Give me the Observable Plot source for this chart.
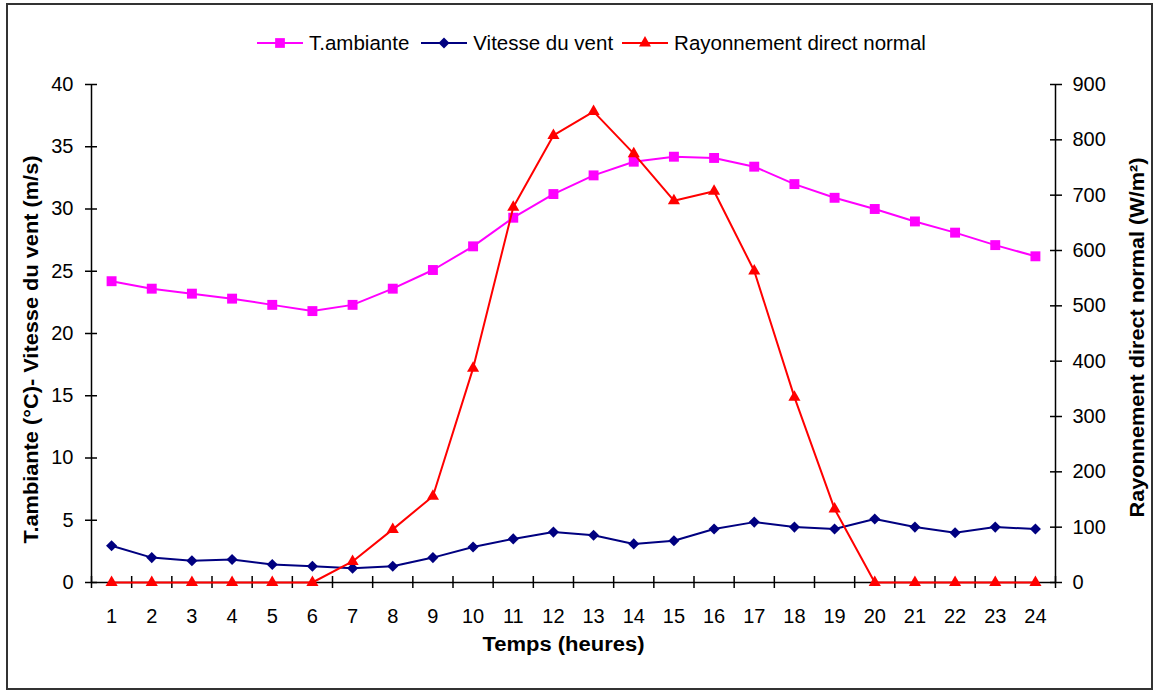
<!DOCTYPE html>
<html><head><meta charset="utf-8">
<script src="https://cdn.jsdelivr.net/npm/d3@7"></script>
<script src="https://cdn.jsdelivr.net/npm/@observablehq/plot@0.6"></script>
<style>
body{margin:0;background:#fff;}
#wrap{position:relative;width:1160px;height:691px;overflow:hidden;font-family:"Liberation Sans",Arial,sans-serif;color:#000;}
#chart{position:absolute;left:0;top:0;}
#border{position:absolute;left:6px;top:3px;width:1147px;height:687px;border:2px solid #333;box-sizing:border-box;pointer-events:none;}
#legend{position:absolute;top:30px;left:257px;height:26px;display:flex;align-items:center;font-size:20.5px;white-space:nowrap;}
.item{display:flex;align-items:center;}
.item svg{margin-right:6px;display:block;}
</style></head>
<body><div id="wrap"><div id="chart"></div><div id="legend"></div><div id="border"></div></div>
<script>
// ---- data ----
const hours = [1,2,3,4,5,6,7,8,9,10,11,12,13,14,15,16,17,18,19,20,21,22,23,24];
const temperature = [24.2,23.6,23.2,22.8,22.3,21.8,22.3,23.6,25.1,27.0,29.3,31.2,32.7,33.8,34.2,34.1,33.4,32.0,30.9,30.0,29.0,28.1,27.1,26.2];
const windSpeed = [2.95,2.0,1.75,1.85,1.45,1.3,1.15,1.3,2.0,2.85,3.5,4.05,3.8,3.1,3.35,4.3,4.85,4.45,4.3,5.1,4.45,4.0,4.45,4.3];
const radiation = [0,0,0,0,0,0,38,96,156,387,678,808,851,775,690,707,563,335,133,0,0,0,0,0];
const leftTicks = [0,5,10,15,20,25,30,35,40];
const rightTicks = [0,100,200,300,400,500,600,700,800,900];
const seriesNames = ["T.ambiante","Vitesse du vent","Rayonnement direct normal"];
const seriesColors = ["#FF00FF","#000080","#FF0000"];
const seriesSymbols = ["square","diamond2","triangle"];
const xTitle = "Temps (heures)";
const yLeftTitle = "T.ambiante (°C)- Vitesse du vent (m/s)";
const yRightTitle = "Rayonnement direct normal (W/m²)";

// ---- derived ----
const k = d3.max(leftTicks) / d3.max(rightTicks);
const rows = hours.map((h, i) => ({hour: h, temp: temperature[i], wind: windSpeed[i], rad: radiation[i], radScaled: radiation[i] * k}));
const x0 = d3.min(hours) - 0.5, x1 = d3.max(hours) + 0.5;
const boundaries = hours.map(h => h - 0.5).concat([x1]);

const font = '"Liberation Sans", Arial, sans-serif';
const chart = Plot.plot({
  width: 1160, height: 691,
  marginTop: 84, marginBottom: 109, marginLeft: 91, marginRight: 105,
  x: {type: "linear", domain: [x0, x1]},
  y: {domain: d3.extent(leftTicks)},
  style: {fontFamily: font, fontSize: "20px", color: "#000", background: "transparent", overflow: "visible"},
  marks: [
    Plot.ruleY([0], {stroke: "#000", strokeWidth: 1.5}),
    Plot.ruleX([x0, x1], {stroke: "#000", strokeWidth: 1.5}),
    Plot.axisX(boundaries, {anchor: "bottom", tickSize: 12, dy: -6, tickFormat: () => "", label: null, strokeWidth: 1.5}),
    Plot.axisX(hours, {anchor: "bottom", tickSize: 0, tickPadding: 26, label: null, tickFormat: d => String(d), fontSize: 20}),
    Plot.axisY(leftTicks, {anchor: "left", tickSize: 12, dx: 6, tickPadding: 12, label: null, strokeWidth: 1.5, fontSize: 20}),
    Plot.axisY(rightTicks.map(v => v * k), {anchor: "right", tickSize: 12, dx: -6, tickPadding: 11, label: null, strokeWidth: 1.5, fontSize: 20, tickFormat: v => String(Math.round(v / k))}),
    Plot.line(rows, {x: "hour", y: "temp", stroke: seriesColors[0], strokeWidth: 2}),
    Plot.dot(rows, {x: "hour", y: "temp", symbol: seriesSymbols[0], r: 5.6, fill: seriesColors[0]}),
    Plot.line(rows, {x: "hour", y: "wind", stroke: seriesColors[1], strokeWidth: 2}),
    Plot.dot(rows, {x: "hour", y: "wind", symbol: seriesSymbols[1], r: 5.0, fill: seriesColors[1]}),
    Plot.line(rows, {x: "hour", y: "radScaled", stroke: seriesColors[2], strokeWidth: 2}),
    Plot.dot(rows, {x: "hour", y: "radScaled", symbol: seriesSymbols[2], r: 4.5, fill: seriesColors[2]}),
    Plot.text([xTitle], {text: d => d, frameAnchor: "bottom", textAnchor: "middle", dx: -10, dy: 68, fontWeight: "bold", fontSize: 20}),
    Plot.text([yLeftTitle], {text: d => d, frameAnchor: "left", textAnchor: "middle", rotate: -90, dx: -60, dy: 16, fontWeight: "bold", fontSize: 20}),
    Plot.text([yRightTitle], {text: d => d, frameAnchor: "right", textAnchor: "middle", rotate: -90, dx: 82, dy: 4, fontWeight: "bold", fontSize: 20})
  ]
});
document.getElementById("chart").appendChild(chart);

// stretch titles to the reference lengths
const lengths = {[xTitle]: 162, [yLeftTitle]: 388, [yRightTitle]: 360};
d3.select(chart).selectAll("text").each(function() {
  const t = this.textContent;
  if (lengths[t]) d3.select(this).attr("textLength", lengths[t]).attr("lengthAdjust", "spacingAndGlyphs");
});

// legend
const symSize = {square: 95, diamond2: 78, triangle: 62};
const symFn = {square: d3.symbolSquare, diamond2: d3.symbolDiamond2, triangle: d3.symbolTriangle};
const gaps = [12, 9, 0];
const legend = d3.select("#legend");
seriesNames.forEach((name, i) => {
  const item = legend.append("div").attr("class", "item").style("margin-right", gaps[i] + "px");
  const s = item.append("svg").attr("width", 46).attr("height", 20);
  s.append("line").attr("x1", 0).attr("x2", 46).attr("y1", 10).attr("y2", 10).attr("stroke", seriesColors[i]).attr("stroke-width", 2);
  s.append("path").attr("transform", "translate(23,10)").attr("d", d3.symbol(symFn[seriesSymbols[i]], symSize[seriesSymbols[i]])()).attr("fill", seriesColors[i]);
  item.append("span").text(name);
});
</script>
</body></html>
